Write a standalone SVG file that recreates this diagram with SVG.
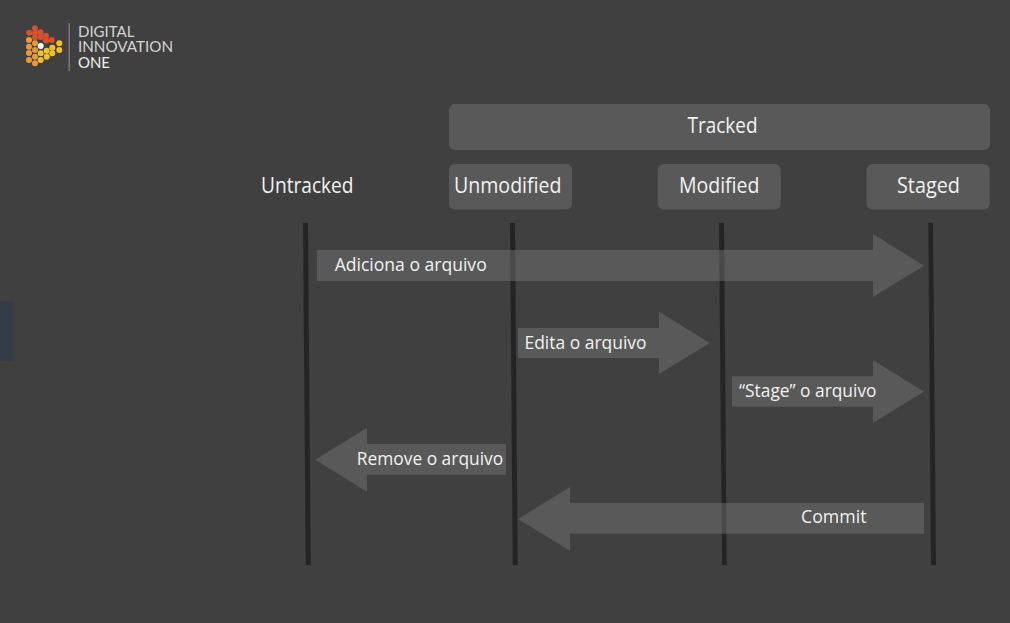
<svg xmlns="http://www.w3.org/2000/svg" width="1010" height="623" viewBox="0 0 1010 623">
<style>
.box{fill:#595959}
.life{fill:#242424}
.arr{fill:#787878;fill-opacity:.45}
text{font-family:"Open Sans","Noto Sans",sans-serif;fill:#f2f2f2}
.h{font-size:21px}
.l{font-size:19px}
.logo{font-family:Lato,"Open Sans",sans-serif;font-size:14.5px;fill:#d4d4d4}
.r{fill:#d8502c}.o{fill:#eb9a35}.y{fill:#f3c024}
circle{r:3px}
</style>
<rect width="1010" height="623" fill="#404040"/>
<rect x="0" y="301" width="13" height="60" fill="#353b47"/>
<g id="logo">
<g class="r"><circle cx="35" cy="28.3"/><circle cx="29.3" cy="32.7"/><circle cx="35" cy="33"/><circle cx="40.5" cy="32.3"/><circle cx="35" cy="37.5"/><circle cx="40.7" cy="37"/><circle cx="46" cy="35.7"/><circle cx="46" cy="40.5"/><circle cx="51.7" cy="40"/></g>
<g class="o"><circle cx="29" cy="40"/><circle cx="29" cy="46.7"/><circle cx="29" cy="53"/><circle cx="29" cy="60"/><circle cx="35" cy="43.3"/><circle cx="35" cy="50"/><circle cx="35" cy="56.7"/><circle cx="35" cy="63.3"/></g>
<circle cx="40.7" cy="46" fill="#fff"/>
<g class="y"><circle cx="40.7" cy="53.3"/><circle cx="40.7" cy="60"/><circle cx="46.7" cy="50.7"/><circle cx="46.7" cy="56.7"/><circle cx="52.3" cy="47.7"/><circle cx="52.3" cy="53.3"/><circle cx="59.3" cy="43.3"/><circle cx="59.3" cy="50"/></g>
<rect x="68.6" y="23" width="1.2" height="48" fill="#8a8a8a"/>
<text class="logo" x="78" y="37" textLength="56.5" lengthAdjust="spacingAndGlyphs">DIGITAL</text>
<text class="logo" x="78" y="52.3" textLength="95" lengthAdjust="spacingAndGlyphs">INNOVATION</text>
<text class="logo" x="78" y="67.5" textLength="32" lengthAdjust="spacingAndGlyphs" style="fill:#eeeeee">ONE</text>
</g>
<g id="tracked"><rect class="box" x="449" y="104" width="541" height="46" rx="6"/><text class="h" x="687.5" y="132.5" textLength="70" lengthAdjust="spacingAndGlyphs">Tracked</text></g>
<g id="untracked"><text class="h" x="261" y="192.5" textLength="92.5" lengthAdjust="spacingAndGlyphs">Untracked</text></g>
<g id="unmodified"><rect class="box" x="449" y="164" width="123" height="45.5" rx="6"/><text class="h" x="454" y="192.5" textLength="107.5" lengthAdjust="spacingAndGlyphs">Unmodified</text></g>
<g id="modified"><rect class="box" x="657.7" y="164" width="123" height="45.5" rx="6"/><text class="h" x="679" y="192.5" textLength="80.5" lengthAdjust="spacingAndGlyphs">Modified</text></g>
<g id="staged"><rect class="box" x="866.5" y="164" width="123.2" height="45.5" rx="6"/><text class="h" x="897" y="192.5" textLength="63" lengthAdjust="spacingAndGlyphs">Staged</text></g>
<g id="connectors">
<polygon class="life" points="303,223 308,223 310.7,565 305.7,565"/>
<polygon class="life" points="510,223 515,223 517.7,565 512.7,565"/>
<polygon class="life" points="719,223 724,223 726.7,565 722,565"/>
<polygon class="life" points="928.3,223 933,223 936,565 931,565"/>
<polygon class="arr" points="317,250 873,250 873,234 924,265.7 873,297 873,281 317,281"/>
<polygon class="arr" points="518,328 659,328 659,311.7 709.7,343 659,374 659,358 518,358"/>
<polygon class="arr" points="732,376.3 873,376.3 873,360.3 924,391.5 873,423 873,406.7 732,406.7"/>
<polygon class="arr" points="506,444 367,444 367,427.7 315.3,459.7 367,491.7 367,474.7 506,474.7"/>
<polygon class="arr" points="924,503 570,503 570,487 518,519 570,550.7 570,533.7 924,533.7"/>
</g>
<g id="labels">
<text class="l" x="334.7" y="271.3" textLength="152" lengthAdjust="spacingAndGlyphs">Adiciona o arquivo</text>
<text class="l" x="524.5" y="348.8" textLength="122" lengthAdjust="spacingAndGlyphs">Edita o arquivo</text>
<text class="l" x="739" y="397.3" textLength="137.5" lengthAdjust="spacingAndGlyphs">“Stage” o arquivo</text>
<text class="l" x="356.7" y="465.3" textLength="146.5" lengthAdjust="spacingAndGlyphs">Remove o arquivo</text>
<text class="l" x="801" y="523.3" textLength="65.5" lengthAdjust="spacingAndGlyphs">Commit</text>
</g>
</svg>
